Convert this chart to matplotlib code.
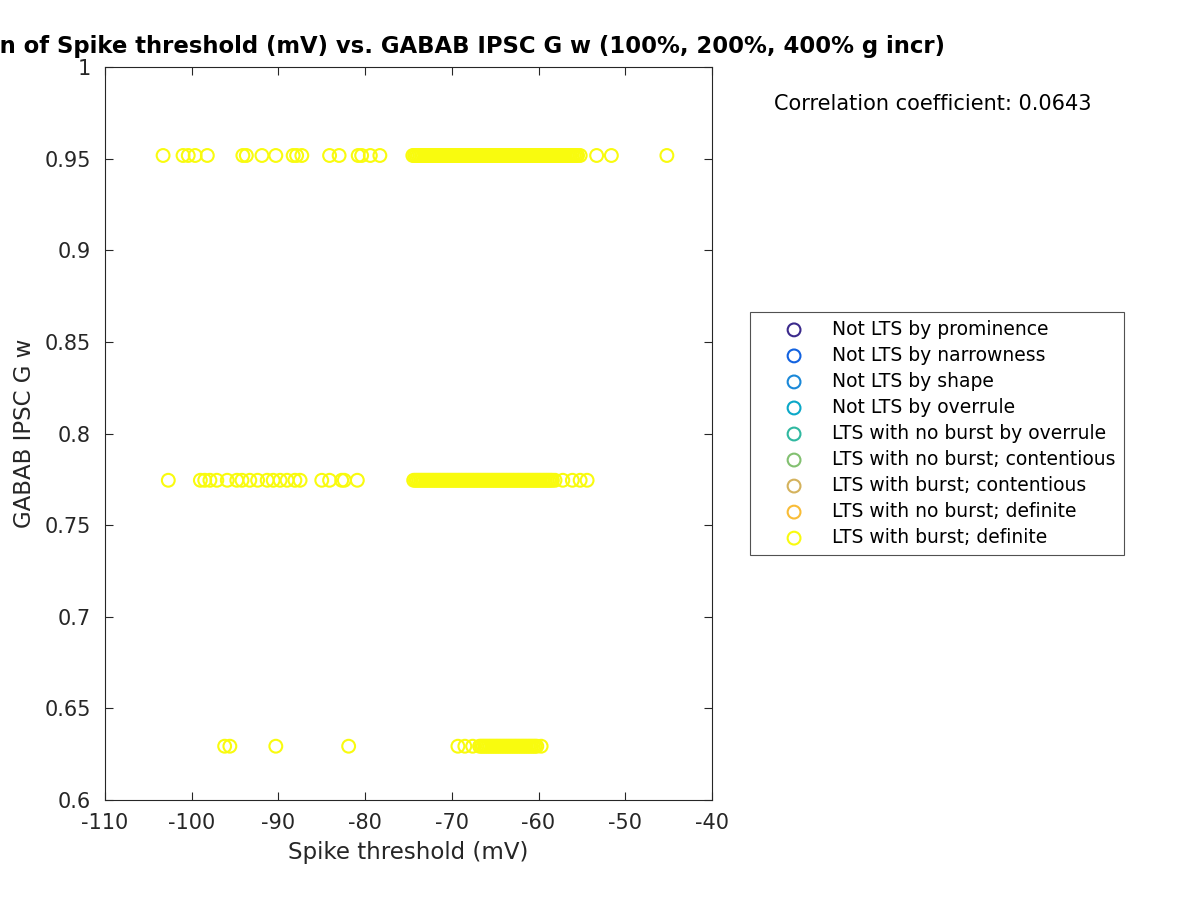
import numpy as np
import matplotlib
matplotlib.use("Agg")
import matplotlib.pyplot as plt

# ================= DATA =================
categories = ["Not LTS by prominence", "Not LTS by narrowness", "Not LTS by shape",
              "Not LTS by overrule", "LTS with no burst by overrule",
              "LTS with no burst; contentious", "LTS with burst; contentious",
              "LTS with no burst; definite", "LTS with burst; definite"]
cat_colors = ["#3b2a8c", "#1262e0", "#1a88d8", "#0aa8c8", "#2fb8a0",
              "#82c070", "#d4b25c", "#f9bc36", "#f9fb0e"]

g_high = 0.9517
g_mid = 0.7745
g_low = 0.6294

# spike thresholds (mV) at each GABAB G w level, all "LTS with burst; definite"
thr_high = [-103.3, -101.0, -100.4, -99.6, -98.2, -94.1, -93.7, -91.9, -90.3, -88.3,
            -87.9, -87.3, -84.1, -83.0, -80.8, -80.4, -79.4, -78.3,
            -74.5, -74.3, -74.1, -73.9, -73.7, -73.5, -73.3, -73.1, -72.9, -72.7,
            -72.5, -72.3, -72.1, -71.9, -71.7, -71.5, -71.3, -71.1, -70.9, -70.7,
            -70.5, -70.3, -70.1, -69.9, -69.7, -69.5, -69.3, -69.1, -68.9, -68.7,
            -68.5, -68.3, -68.1, -67.9, -67.7, -67.5, -67.3, -67.1, -66.9, -66.7,
            -66.5, -66.3, -66.1, -65.9, -65.7, -65.5, -65.3, -65.1, -64.9, -64.7,
            -64.5, -64.3, -64.1, -63.9, -63.7, -63.5, -63.3, -63.1, -62.9, -62.7,
            -62.5, -62.3, -62.1, -61.9, -61.7, -61.5, -61.3, -61.1, -60.9, -60.7,
            -60.5, -60.3, -60.1, -59.9, -59.7, -59.5, -59.3, -59.1, -58.9, -58.7,
            -58.5, -58.3, -58.1, -57.9, -57.7, -57.5, -57.3, -57.1, -56.9, -56.7,
            -56.5, -56.3, -56.1, -55.9, -55.7, -55.5, -55.2,
            -53.3, -51.6, -45.2]
thr_mid = [-102.7, -99.0, -98.5, -97.9, -97.1, -95.9, -94.8, -94.2, -93.3, -92.4,
           -91.3, -90.6, -89.8, -89.0, -88.1, -87.5, -85.0, -84.1, -82.7, -82.4, -80.9,
           -74.4, -74.2, -74.0, -73.8, -73.6, -73.4, -73.2, -73.0, -72.8, -72.6,
           -72.4, -72.2, -72.0, -71.8, -71.6, -71.4, -71.2, -71.0, -70.8, -70.6,
           -70.4, -70.2, -70.0, -69.8, -69.6, -69.4, -69.2, -69.0, -68.8, -68.6,
           -68.4, -68.2, -68.0, -67.8, -67.6, -67.4, -67.2, -67.0, -66.8, -66.6,
           -66.4, -66.2, -66.0, -65.8, -65.6, -65.4, -65.2, -65.0, -64.8, -64.6,
           -64.4, -64.2, -64.0, -63.8, -63.6, -63.4, -63.2, -63.0, -62.8, -62.6,
           -62.4, -62.2, -62.0, -61.8, -61.6, -61.4, -61.2, -61.0, -60.8, -60.6,
           -60.4, -60.2, -60.0, -59.8, -59.6, -59.4, -59.2, -59.0, -58.8, -58.6,
           -58.4, -58.1, -57.2, -56.1, -55.2, -54.4]
thr_low = [-96.2, -95.6, -90.3, -81.9, -69.3, -68.5, -67.6,
           -66.8, -66.6, -66.4, -66.2, -66.0, -65.8, -65.6, -65.4, -65.2, -65.0,
           -64.8, -64.6, -64.4, -64.2, -64.0, -63.8, -63.6, -63.4, -63.2, -63.0,
           -62.8, -62.6, -62.4, -62.2, -62.0, -61.8, -61.6, -61.4, -61.2, -61.0,
           -60.8, -60.6, -60.4, -60.2, -59.7]

corr_coef = 0.0643

# ================= PLOT =================
plt.rcParams['font.family'] = ['DejaVu Sans']
plt.rcParams['axes.unicode_minus'] = False
fig = plt.figure(figsize=(12, 9), dpi=100)
ax = fig.add_axes([0.0875, 0.111, 0.5058, 0.8146])

x_all = np.array(thr_high + thr_mid + thr_low)
y_all = np.array([g_high] * len(thr_high) + [g_mid] * len(thr_mid) + [g_low] * len(thr_low))

for name, col in zip(categories, cat_colors):
    if name == "LTS with burst; definite":
        xs, ys = x_all, y_all
    else:
        xs, ys = [], []
    ax.scatter(xs, ys, s=85, facecolors='none', edgecolors=col, linewidths=1.5, label=name)

ax.set_xlim(-110, -40)
ax.set_ylim(0.6, 1.0)
ax.set_xticks(np.arange(-110, -39, 10))
ax.set_yticks([0.6, 0.65, 0.7, 0.75, 0.8, 0.85, 0.9, 0.95, 1.0])
ax.set_yticklabels(["0.6", "0.65", "0.7", "0.75", "0.8", "0.85", "0.9", "0.95", "1"])
ax.tick_params(direction='in', top=True, right=True, labelsize=15, colors='#262626', length=6)
ax.tick_params(axis='y', pad=10)
ax.tick_params(axis='x', pad=9)
for sp in ax.spines.values():
    sp.set_color('#262626')
    sp.set_linewidth(0.8)

ax.set_xlabel("Spike threshold (mV)", fontsize=16.5, color='#262626', labelpad=6)
ax.set_ylabel("GABAB IPSC G w", fontsize=16.5, color='#262626', labelpad=6)
ax.set_title("Correlation of Spike threshold (mV) vs. GABAB IPSC G w (100%, 200%, 400% g incr)",
             fontsize=16.4, fontweight='bold', pad=10)

fig.text(0.645, 0.885, f"Correlation coefficient: {corr_coef:.4f}", fontsize=15, va='center')

leg = ax.legend(loc='upper left', bbox_to_anchor=(0.625, 0.653), bbox_transform=fig.transFigure,
                fontsize=13.5, frameon=True, fancybox=False, edgecolor='#262626',
                labelspacing=0.375, handletextpad=0.1, borderpad=0.4, handlelength=3.9,
                borderaxespad=0)
leg.get_frame().set_linewidth(0.8)

plt.savefig("out.png", dpi=100)
plt.close()
